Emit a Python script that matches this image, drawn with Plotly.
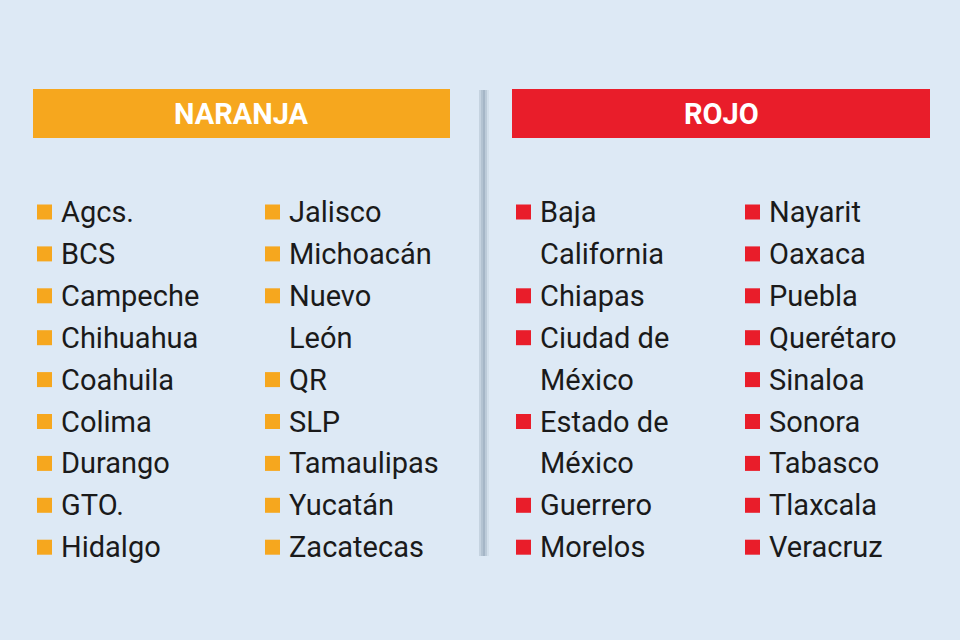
import plotly.graph_objects as go

naranja_col1 = ["Agcs.", "BCS", "Campeche", "Chihuahua", "Coahuila", "Colima", "Durango", "GTO.", "Hidalgo"]
naranja_col2 = ["Jalisco", "Michoacán", "Nuevo\nLeón", "QR", "SLP", "Tamaulipas", "Yucatán", "Zacatecas"]
rojo_col1 = ["Baja\nCalifornia", "Chiapas", "Ciudad de\nMéxico", "Estado de\nMéxico", "Guerrero", "Morelos"]
rojo_col2 = ["Nayarit", "Oaxaca", "Puebla", "Querétaro", "Sinaloa", "Sonora", "Tabasco", "Tlaxcala", "Veracruz"]
headers = ["NARANJA", "ROJO"]

ORANGE = "#f6a71e"
RED = "#e91d2a"
BG = "#dde9f5"

fig = go.Figure()
shapes, anns = [], []

for (x0, x1, col, txt) in [(33, 450, ORANGE, headers[0]), (512, 930, RED, headers[1])]:
    shapes.append(dict(type="rect", x0=x0, x1=x1, y0=89, y1=138, fillcolor=col, line_width=0, layer="below"))
    anns.append(dict(x=(x0 + x1) / 2, y=114, text=f"<b>{txt}</b>", showarrow=False,
                     font=dict(family="Roboto", size=29, color="white"), xanchor="center", yanchor="middle"))

for i, c in enumerate(["#c5d3e0", "#b3c3d2", "#a5b6c7", "#bccbd9", "#d2dfeb"]):
    shapes.append(dict(type="rect", x0=479 + i * 2, x1=481 + i * 2, y0=90, y1=556, fillcolor=c, line_width=0, layer="below"))

row_y0, row_dy = 212, 41.9

def column(items, sq_x, color):
    row = 0
    for item in items:
        lines = item.split("\n")
        y = row_y0 + row * row_dy
        shapes.append(dict(type="rect", x0=sq_x, x1=sq_x + 15, y0=y - 7.5, y1=y + 7.5,
                           fillcolor=color, line_width=0))
        for j, ln in enumerate(lines):
            anns.append(dict(x=sq_x + 22, y=row_y0 + (row + j) * row_dy, text=ln, showarrow=False,
                             xanchor="left", yanchor="middle",
                             font=dict(family="Roboto", size=29, color="#1a1a1a")))
        row += len(lines)

column(naranja_col1, 37, ORANGE)
column(naranja_col2, 265, ORANGE)
column(rojo_col1, 516, RED)
column(rojo_col2, 745, RED)

fig.update_layout(
    width=960, height=640, margin=dict(l=0, r=0, t=0, b=0),
    paper_bgcolor=BG, plot_bgcolor=BG, showlegend=False,
    xaxis=dict(range=[0, 960], visible=False, fixedrange=True),
    yaxis=dict(range=[640, 0], visible=False, fixedrange=True),
    shapes=shapes, annotations=anns,
)
fig.write_html("out.html", config={"displayModeBar": False},
               post_script="document.body.style.margin='0';document.body.style.overflow='hidden';document.body.style.background='#dde9f5';")
